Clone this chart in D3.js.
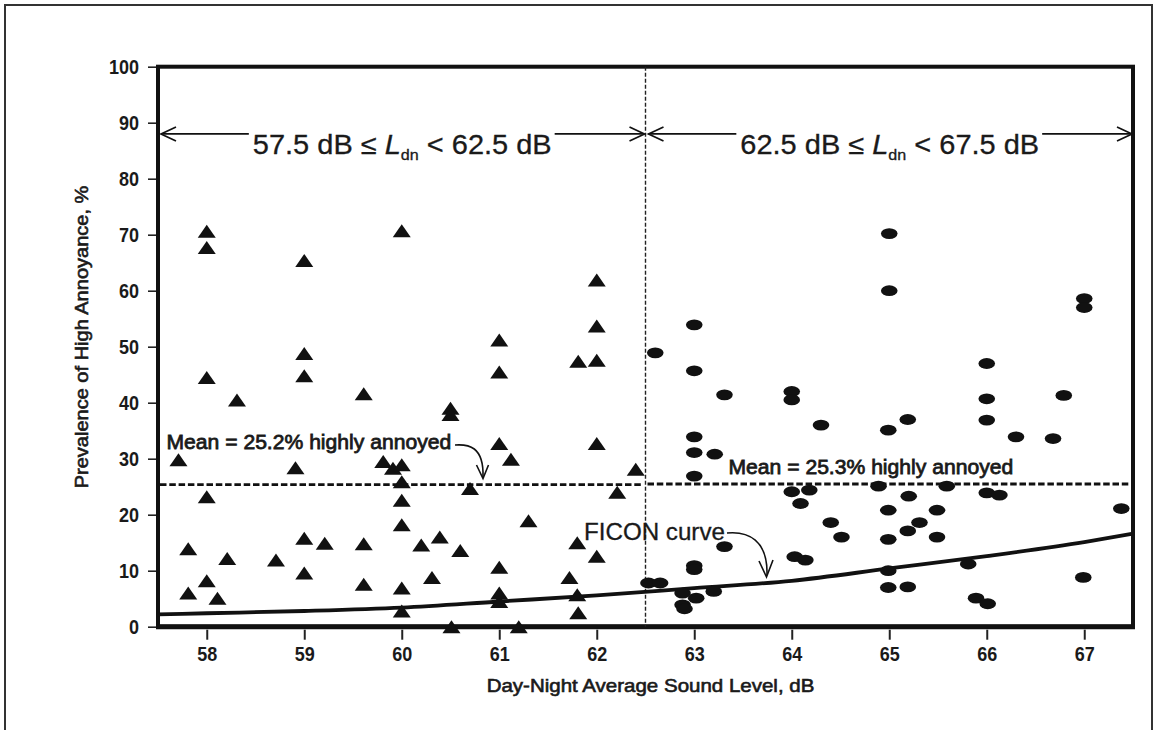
<!DOCTYPE html>
<html>
<head>
<meta charset="utf-8">
<script src="https://cdn.jsdelivr.net/npm/d3@7"></script>
<style>
    body { margin: 0; background: #ffffff; }
    svg { display: block; }
    text { font-family: "Liberation Sans", Arial, sans-serif; fill: #1a1a1a; }
</style>
</head>
<body>
<div id="chart"></div>
<script>
// ===== Data =====
const xTicks = [58, 59, 60, 61, 62, 63, 64, 65, 66, 67];
const yTicks = [0, 10, 20, 30, 40, 50, 60, 70, 80, 90, 100];
const bandEdges = [57.5, 62.5, 67.5];
const bandCentres = [60, 65];
const bandArrowLevel = 88;
const meanLow = 25.2;
const meanHigh = 25.3;

// Triangles: 57.5 dB <= Ldn < 62.5 dB
const lowLdn = [58.0, 58.0, 59.0, 60.0, 59.0, 58.0, 59.0, 58.31, 59.61, 60.5,
    60.5, 61.0, 61.0, 61.0, 57.71, 58.91, 59.81, 59.91, 60.0, 60.0,
    60.7, 58.0, 60.0, 60.0, 59.0, 59.21, 59.61, 60.2, 60.39, 60.6,
    57.81, 58.21, 58.71, 59.0, 58.0, 57.81, 58.11, 59.61, 60.0, 60.31,
    60.0, 60.51, 61.0, 61.81, 62.0, 62.0, 62.0, 61.12, 62.0, 62.4,
    62.21, 61.3, 61.8, 62.0, 61.72, 61.0, 61.0, 61.8, 61.81, 61.2];
const lowHA = [70.6, 67.7, 65.4, 70.7, 48.8, 44.5, 44.8, 40.5, 41.6, 39.0,
    37.9, 51.2, 45.5, 32.7, 29.8, 28.4, 29.5, 28.3, 28.9, 25.9,
    24.7, 23.2, 22.6, 18.2, 15.8, 14.9, 14.8, 14.6, 16.0, 13.6,
    13.9, 12.2, 11.9, 9.6, 8.2, 6.0, 5.1, 7.6, 6.9, 8.8,
    2.8, 0.0, 10.6, 47.4, 47.6, 53.7, 61.9, 29.9, 32.7, 28.1,
    24.0, 18.9, 15.0, 12.6, 8.8, 6.0, 4.5, 5.7, 2.5, 0.0];

// Ovals: 62.5 dB <= Ldn < 67.5 dB
const highLdn = [62.6, 63.0, 63.0, 63.31, 64.0, 64.0, 64.3, 63.0, 63.0, 63.21,
    63.0, 64.0, 64.18, 64.09, 63.31, 63.0, 63.0, 64.03, 64.14, 62.53,
    62.65, 62.88, 62.88, 62.9, 63.02, 63.2, 66.0, 66.0, 66.0, 66.79,
    65.19, 64.99, 66.3, 66.68, 64.89, 65.59, 66.0, 66.13, 65.2, 64.99,
    65.49, 67.38, 64.4, 65.31, 65.19, 64.51, 64.99, 65.49, 64.99, 65.81,
    64.99, 65.19, 65.89, 66.01, 66.99, 65.0, 65.0, 67.0, 67.0];
const highHA = [48.9, 53.9, 45.7, 41.4, 42.0, 40.5, 36.0, 33.9, 31.1, 30.8,
    26.9, 24.1, 24.4, 22.0, 14.3, 10.9, 10.2, 12.5, 11.9, 7.8,
    7.8, 6.0, 3.9, 3.2, 5.1, 6.3, 47.0, 40.7, 36.9, 41.3,
    37.0, 35.1, 33.9, 33.6, 25.1, 25.1, 23.9, 23.5, 23.3, 20.8,
    20.8, 21.1, 18.6, 18.6, 17.1, 16.0, 15.6, 16.0, 10.0, 11.2,
    7.0, 7.1, 5.1, 4.1, 8.8, 70.2, 60.0, 58.6, 57.0];

// FICON curve, traced
const ficonLdn = [57.5, 58, 59, 60, 61, 62, 63, 64, 65, 66, 67, 67.5];
const ficonHA = [2.2, 2.4, 2.8, 3.4, 4.5, 5.6, 6.9, 8.2, 10.4, 12.6, 15.1, 16.6];

// ===== Drawing =====
const width = 1159;
const height = 730;
const plot = { left: 158, right: 1133, top: 66.7, bottom: 626.7 };

const svg = d3.select("#chart")
    .append("svg")
    .attr("width", width)
    .attr("height", height);

// outer frame of the figure
svg.append("rect")
    .attr("x", 5).attr("y", 5)
    .attr("width", 1147).attr("height", 760)
    .attr("fill", "none")
    .attr("stroke", "#333")
    .attr("stroke-width", 2);

const x = d3.scaleLinear().domain([bandEdges[0], bandEdges[2]]).range([plot.left, plot.right]);
const y = d3.scaleLinear().domain([0, 100]).range([plot.bottom, plot.top]);

// squeeze/stretch a text horizontally so it covers a given width
function FitText(sel, targetWidth, tx, ty, rotate) {
    const w = sel.node().getBBox().width;
    const k = targetWidth / w;
    sel.attr("transform", `translate(${tx},${ty})` + (rotate ? ` rotate(${rotate})` : "") + ` scale(${k},1)`);
    return sel;
}

// y axis
const yAxis = svg.append("g")
    .attr("transform", `translate(${plot.left},0)`)
    .call(d3.axisLeft(y).tickValues(yTicks).tickSize(10).tickPadding(11));
yAxis.select(".domain").remove();
yAxis.selectAll(".tick line").attr("stroke", "#222").attr("stroke-width", 1.6);
yAxis.selectAll(".tick text")
    .style("font-family", "'Liberation Sans', Arial, sans-serif")
    .style("font-size", "20px")
    .style("font-weight", "bold")
    .attr("transform", "scale(0.9,1)")
    .attr("fill", "#1a1a1a");

// x axis
const xAxis = svg.append("g")
    .attr("transform", `translate(0,${plot.bottom + 3})`)
    .call(d3.axisBottom(x).tickValues(xTicks).tickSize(10).tickPadding(7));
xAxis.select(".domain").remove();
xAxis.selectAll(".tick line").attr("stroke", "#222").attr("stroke-width", 2);
xAxis.selectAll(".tick text")
    .style("font-family", "'Liberation Sans', Arial, sans-serif")
    .style("font-size", "20px")
    .style("font-weight", "bold")
    .attr("transform", "scale(0.9,1)")
    .attr("fill", "#1a1a1a");

// plot frame
svg.append("rect")
    .attr("x", x(bandEdges[0])).attr("y", y(100))
    .attr("width", x(bandEdges[2]) - x(bandEdges[0]))
    .attr("height", y(0) - y(100))
    .attr("fill", "none")
    .attr("stroke", "#111")
    .attr("stroke-width", 4);
svg.append("line")
    .attr("x1", x(bandEdges[0]) - 2).attr("x2", x(bandEdges[2]) + 2)
    .attr("y1", y(0)).attr("y2", y(0))
    .attr("stroke", "#111").attr("stroke-width", 5);

// axis titles
const yTitle = svg.append("text")
    .attr("text-anchor", "middle")
    .style("font-size", "18px")
    .attr("stroke", "#1a1a1a").attr("stroke-width", 0.6)
    .text("Prevalence of High Annoyance, %");
FitText(yTitle, 303, 88, 337, -90);

const xTitle = svg.append("text")
    .attr("text-anchor", "middle")
    .style("font-size", "18px")
    .attr("stroke", "#1a1a1a").attr("stroke-width", 0.6)
    .text("Day-Night Average Sound Level, dB");
FitText(xTitle, 328, (x(bandEdges[0]) + x(bandEdges[2])) / 2 + 5, 692);

// band divider
svg.append("line")
    .attr("x1", x(bandEdges[1])).attr("x2", x(bandEdges[1]))
    .attr("y1", y(100)).attr("y2", y(0))
    .attr("stroke", "#222")
    .attr("stroke-width", 1.4)
    .attr("stroke-dasharray", "4,2");

// mean lines
const means = [
    { from: bandEdges[0], to: bandEdges[1], value: meanLow },
    { from: bandEdges[1], to: bandEdges[2], value: meanHigh }
];
svg.selectAll(".mean-line")
    .data(means)
    .join("line")
    .attr("class", "mean-line")
    .attr("x1", d => x(d.from) + 2)
    .attr("x2", d => x(d.to) - 2)
    .attr("y1", d => y(d.value) - 1)
    .attr("y2", d => y(d.value) - 1)
    .attr("stroke", "#111")
    .attr("stroke-width", 2.8)
    .attr("stroke-dasharray", "6.5,2.8");

// FICON curve
const ficon = ficonLdn.map((v, i) => ({ x: v, y: ficonHA[i] }));
svg.append("path")
    .datum(ficon)
    .attr("fill", "none")
    .attr("stroke", "#111")
    .attr("stroke-width", 3.8)
    .attr("d", d3.line().x(d => x(d.x)).y(d => y(d.y)).curve(d3.curveMonotoneX));

// markers
const triangleShape = {
    draw(ctx) {
        ctx.moveTo(0, -6.5);
        ctx.lineTo(9, 6.5);
        ctx.lineTo(-9, 6.5);
        ctx.closePath();
    }
};
const lowPoints = lowLdn.map((v, i) => ({ x: v, y: lowHA[i] }));
const highPoints = highLdn.map((v, i) => ({ x: v, y: highHA[i] }));

svg.selectAll(".tri")
    .data(lowPoints)
    .join("path")
    .attr("class", "tri")
    .attr("d", d3.symbol().type(triangleShape))
    .attr("transform", d => `translate(${x(d.x)},${y(d.y)})`)
    .attr("fill", "#111");

svg.selectAll(".oval")
    .data(highPoints)
    .join("ellipse")
    .attr("class", "oval")
    .attr("cx", d => x(d.x))
    .attr("cy", d => y(d.y))
    .attr("rx", 8.3)
    .attr("ry", 5.4)
    .attr("fill", "#111");

// ===== Annotations =====
function Chevron(tipX, tipY, dir) {
    // open arrow head, dir = -1 points left, 1 points right
    svg.append("path")
        .attr("d", `M${tipX - dir * 15},${tipY - 7} L${tipX},${tipY} L${tipX - dir * 15},${tipY + 7}`)
        .attr("fill", "none")
        .attr("stroke", "#111")
        .attr("stroke-width", 1.7);
}

const arrowY = y(bandArrowLevel);
const bandLabels = [
    { lo: "57.5", hi: "62.5" },
    { lo: "62.5", hi: "67.5" }
];
bandLabels.forEach((b, i) => {
    const t = svg.append("text")
        .attr("text-anchor", "middle")
        .style("font-size", "27px")
        .attr("stroke", "#1a1a1a").attr("stroke-width", 0.3);
    t.append("tspan").text(`${b.lo} dB \u2264 `);
    t.append("tspan").style("font-style", "italic").text("L");
    t.append("tspan").style("font-size", "15px").attr("dy", 6).text("dn");
    t.append("tspan").attr("dy", -6).text(` < ${b.hi} dB`);
    FitText(t, 299, x(bandCentres[i]) + 0.5, arrowY + 20.5);

    const box = t.node().getBoundingClientRect();
    const leftEnd = x(bandEdges[i]) + 3;
    const rightEnd = x(bandEdges[i + 1]) - 1;
    svg.append("line")
        .attr("x1", leftEnd).attr("x2", box.left - 4)
        .attr("y1", arrowY).attr("y2", arrowY)
        .attr("stroke", "#111").attr("stroke-width", 1.7);
    svg.append("line")
        .attr("x1", box.right + 3).attr("x2", rightEnd)
        .attr("y1", arrowY).attr("y2", arrowY)
        .attr("stroke", "#111").attr("stroke-width", 1.7);
    Chevron(leftEnd, arrowY, -1);
    Chevron(rightEnd, arrowY, 1);
});

// mean labels
const meanText1 = svg.append("text")
    .style("font-size", "21px")
    .attr("stroke", "#1a1a1a").attr("stroke-width", 0.8)
    .text(`Mean = ${meanLow}% highly annoyed`);
FitText(meanText1, 285, 166.5, 448.5);

const meanText2 = svg.append("text")
    .style("font-size", "21px")
    .attr("stroke", "#1a1a1a").attr("stroke-width", 0.8)
    .text(`Mean = ${meanHigh}% highly annoyed`);
FitText(meanText2, 285, 728.5, 473.5);

// curly arrow from the left mean label down to its line
svg.append("path")
    .attr("d", "M455,445 C468,444 484,446 483,477")
    .attr("fill", "none").attr("stroke", "#111").attr("stroke-width", 1.6);
svg.append("path")
    .attr("d", "M476.5,465 L483,478.5 L488.5,465")
    .attr("fill", "none").attr("stroke", "#111").attr("stroke-width", 1.6);

// FICON label + arrow
const ficonText = svg.append("text")
    .style("font-size", "23px")
    .attr("stroke", "#1a1a1a").attr("stroke-width", 0.3)
    .text("FICON curve");
FitText(ficonText, 141, 584, 540);

svg.append("path")
    .attr("d", "M727,533 C748,531 768,540 767,575")
    .attr("fill", "none").attr("stroke", "#111").attr("stroke-width", 1.6);
svg.append("path")
    .attr("d", "M759,561 L766.5,577 L773,560")
    .attr("fill", "none").attr("stroke", "#111").attr("stroke-width", 1.6);
</script>
</body>
</html>
